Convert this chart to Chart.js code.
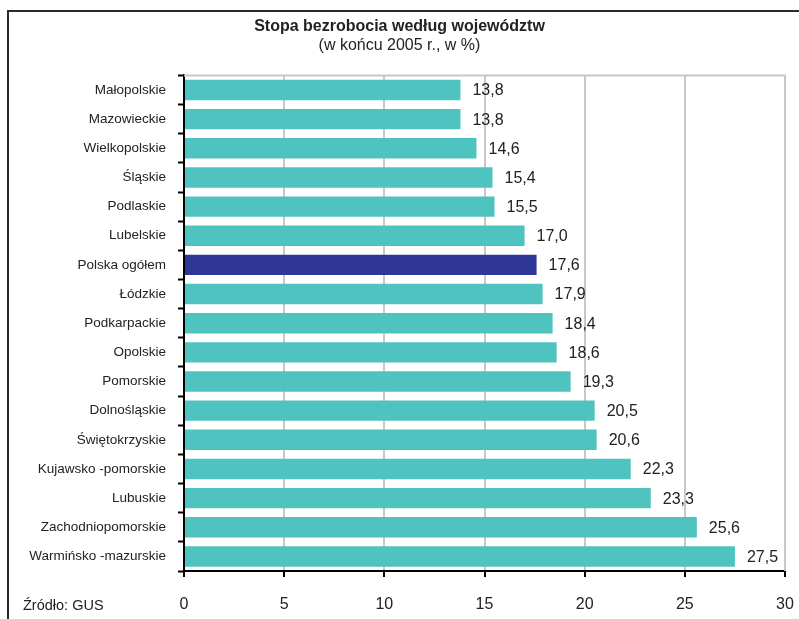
<!DOCTYPE html>
<html>
<head>
<meta charset="utf-8">
<script src="https://cdn.jsdelivr.net/npm/chart.js@4.4.1/dist/chart.umd.min.js"></script>
<style>
  html, body { margin: 0; padding: 0; background: #fff; }
  #wrap { width: 799px; height: 619px; position: relative; }
</style>
</head>
<body>
<div id="wrap"><canvas id="unemployment-chart"></canvas></div>
<script>
const regions = [
    'Małopolskie', 'Mazowieckie', 'Wielkopolskie', 'Śląskie', 'Podlaskie',
    'Lubelskie', 'Polska ogółem', 'Łódzkie', 'Podkarpackie', 'Opolskie',
    'Pomorskie', 'Dolnośląskie', 'Świętokrzyskie', 'Kujawsko -pomorskie',
    'Lubuskie', 'Zachodniopomorskie', 'Warmińsko -mazurskie'
];
const rates = [13.8, 13.8, 14.6, 15.4, 15.5, 17.0, 17.6, 17.9, 18.4, 18.6, 19.3, 20.5, 20.6, 22.3, 23.3, 25.6, 27.5];
const xTicks = [0, 5, 10, 15, 20, 25, 30];
const highlight = 'Polska ogółem';

const FONT = '"Liberation Sans", Arial, sans-serif';

// frame, plot border, value labels and source note
const decorations = {
    id: 'decorations',
    beforeDatasetsDraw(chart) {
        const { ctx, chartArea } = chart;
        ctx.save();
        ctx.strokeStyle = '#c8c8c8';
        ctx.lineWidth = 2;
        ctx.beginPath();
        ctx.moveTo(chartArea.left, chartArea.top);
        ctx.lineTo(chartArea.right, chartArea.top);
        ctx.lineTo(chartArea.right, chartArea.bottom);
        ctx.stroke();
        ctx.restore();
    },
    afterDraw(chart) {
        const { ctx } = chart;
        ctx.save();
        ctx.strokeStyle = '#2a2a2a';
        ctx.lineWidth = 2;
        ctx.beginPath();
        ctx.moveTo(8, 619);
        ctx.lineTo(8, 11);
        ctx.lineTo(799, 11);
        ctx.stroke();

        ctx.fillStyle = '#222';
        ctx.font = '16px ' + FONT;
        ctx.textAlign = 'left';
        ctx.textBaseline = 'middle';
        chart.getDatasetMeta(0).data.forEach((bar, i) => {
            ctx.fillText(rates[i].toFixed(1).replace('.', ','), bar.x + 12, bar.y + 1);
        });

        ctx.font = '14.5px ' + FONT;
        ctx.fillText('Źródło: GUS', 23, 606);
        ctx.restore();
    }
};

new Chart(document.getElementById('unemployment-chart').getContext('2d'), {
    type: 'bar',
    data: {
        labels: regions,
        datasets: [{
            data: rates,
            backgroundColor: regions.map(r => r === highlight ? '#2e3795' : '#4fc3bf'),
            borderWidth: 0,
            categoryPercentage: 0.7,
            barPercentage: 1.0
        }]
    },
    options: {
        indexAxis: 'y',
        responsive: true,
        maintainAspectRatio: false,
        animation: false,
        layout: { padding: 0 },
        scales: {
            x: {
                min: 0,
                max: 30,
                afterBuildTicks(scale) {
                    scale.ticks = xTicks.map(v => ({ value: v }));
                },
                afterFit(scale) {
                    scale.height = 48;
                    scale.paddingLeft = 0;
                    scale.paddingRight = 14;
                },
                grid: {
                    color: '#c8c8c8',
                    lineWidth: 2,
                    tickColor: '#000',
                    tickWidth: 2,
                    tickLength: 6
                },
                border: { color: '#000', width: 2 },
                ticks: {
                    color: '#222',
                    padding: 18,
                    font: { family: FONT, size: 16 }
                }
            },
            y: {
                afterFit(scale) {
                    scale.width = 184;
                    scale.paddingTop = 0;
                    scale.paddingBottom = 0;
                },
                grid: {
                    drawOnChartArea: false,
                    tickColor: '#000',
                    tickWidth: 2,
                    tickLength: 6
                },
                border: { color: '#000', width: 2 },
                ticks: {
                    color: '#222',
                    padding: 12,
                    font: { family: FONT, size: 13.5 }
                }
            }
        },
        plugins: {
            legend: { display: false },
            tooltip: { enabled: false },
            title: {
                display: true,
                text: 'Stopa bezrobocia według województw',
                color: '#222',
                font: { family: FONT, size: 16, weight: 'bold' },
                padding: { top: 17, bottom: 0 }
            },
            subtitle: {
                display: true,
                text: '(w końcu 2005 r., w %)',
                color: '#222',
                font: { family: FONT, size: 16 },
                padding: { top: 0, bottom: 20 }
            }
        }
    },
    plugins: [decorations]
});
</script>
</body>
</html>
